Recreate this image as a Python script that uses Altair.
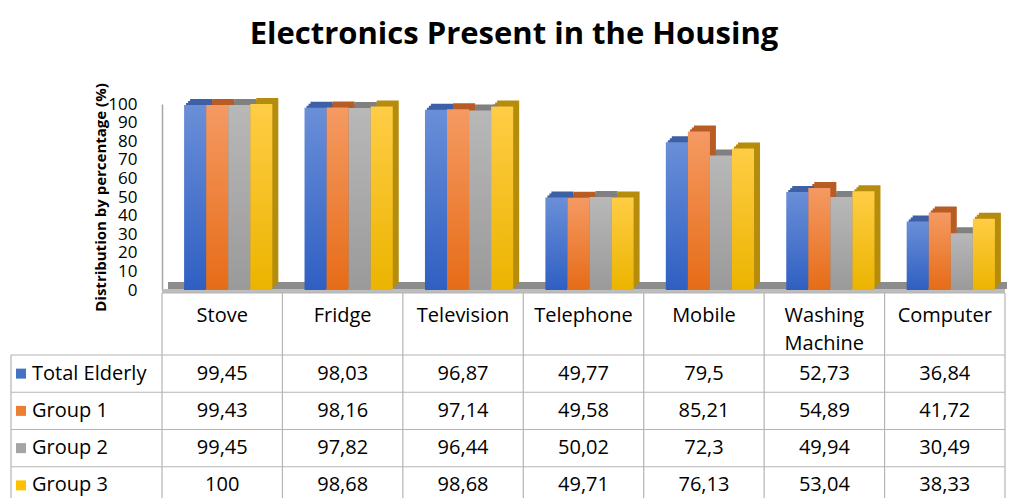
import altair as alt
import pandas as pd

categories = ["Stove", "Fridge", "Television", "Telephone", "Mobile", "Washing Machine", "Computer"]
header_labels = ["Stove", "Fridge", "Television", "Telephone", "Mobile", "Washing\nMachine", "Computer"]
series = ["Total Elderly", "Group 1", "Group 2", "Group 3"]
total_elderly = [99.45, 98.03, 96.87, 49.77, 79.5, 52.73, 36.84]
group_1 = [99.43, 98.16, 97.14, 49.58, 85.21, 54.89, 41.72]
group_2 = [99.45, 97.82, 96.44, 50.02, 72.3, 49.94, 30.49]
group_3 = [100, 98.68, 98.68, 49.71, 76.13, 53.04, 38.33]
y_ticks = [0, 10, 20, 30, 40, 50, 60, 70, 80, 90, 100]
title_text = "Electronics Present in the Housing"
y_title = "Distribution by percentage (%)"

solid = ["#4472c4", "#ed7d31", "#a5a5a5", "#ffc000"]
grad_top = ["#6a8fd8", "#f59a63", "#b8b8b8", "#ffcd45"]
grad_bottom = ["#2f5fc2", "#e66c17", "#9a9a9a", "#ecb400"]
depth = ["#3d5fa6", "#b85c26", "#808080", "#b58c0c"]

FONT = "Open Sans"
values_by_series = [total_elderly, group_1, group_2, group_3]

rows = []
for s, vals in zip(series, values_by_series):
    for c, lab, v in zip(categories, header_labels, vals):
        rows.append({"category": c, "label": lab, "series": s, "value": v,
                     "text": f"{v:g}".replace(".", ",")})
df = pd.DataFrame(rows)
cat_df = pd.DataFrame({"category": categories, "label": header_labels})
ser_df = pd.DataFrame({"series": series})

W, H = 843, 186
BAR_SHIFT = 6


def band_x(shift):
    return alt.Scale(type="band", domain=categories, range=[shift, W + shift],
                     paddingInner=0, paddingOuter=0)


xscale = band_x(0)
yscale = alt.Scale(domain=[0, 100], nice=False, zero=True)
offscale = alt.Scale(type="band", domain=series, paddingInner=0, paddingOuter=0.73)
rowscale = alt.Scale(type="band", domain=series, range=[251, 400], paddingInner=0, paddingOuter=0)
colscale = alt.Scale(domain=series, range=solid)
depthscale = alt.Scale(domain=series, range=depth)

yaxis = alt.Axis(values=y_ticks, title=y_title, grid=False, ticks=False,
                 labelFontSize=17, labelFont=FONT, labelColor="#000000",
                 labelPadding=25, labelOverlap=False, labelBound=False,
                 domainColor="#a6a6a6", domainWidth=1.5,
                 titleFont=FONT, titleFontSize=15, titleFontWeight="bold",
                 titleColor="#000000", titleX=-62, titleY=93, titleAngle=270,
                 titleAlign="center", titleBaseline="middle")

GRID = "#b4b4b4"

# ---- floor (decoration) ----
floor_top = alt.Chart(ser_df.head(1)).mark_rect(color="#8c8c8c").encode(
    x=alt.value(6), x2=alt.value(W + 6), y=alt.value(178), y2=alt.value(185))
floor_front = alt.Chart(ser_df.head(1)).mark_rect(color="#bdbdbd").encode(
    x=alt.value(0), x2=alt.value(W), y=alt.value(185), y2=alt.value(189))

# ---- bar depth (stacked offsets give a slanted top/side face) ----
shadows = []
for d in [2, 4, 6]:
    shadows.append(
        alt.Chart(df).mark_bar(yOffset=-d, y2Offset=-d).encode(
            x=alt.X("category:N", scale=band_x(BAR_SHIFT + d), axis=None),
            xOffset=alt.XOffset("series:N", scale=offscale),
            y=alt.Y("value:Q", scale=yscale, axis=yaxis),
            color=alt.Color("series:N", scale=depthscale, legend=None),
        )
    )

bars = []
for i, s in enumerate(series):
    g = alt.Gradient(gradient="linear", x1=0, x2=0, y1=0, y2=1,
                     stops=[alt.GradientStop(color=grad_top[i], offset=0),
                            alt.GradientStop(color=grad_bottom[i], offset=1)])
    bars.append(
        alt.Chart(df).transform_filter(alt.datum.series == s).mark_bar(color=g).encode(
            x=alt.X("category:N", scale=band_x(BAR_SHIFT), axis=None),
            xOffset=alt.XOffset("series:N", scale=offscale),
            y=alt.Y("value:Q", scale=yscale, axis=yaxis),
        )
    )

bar_part = alt.layer(floor_top, floor_front, *shadows, *bars).resolve_scale(x="independent")

# ---- table ----
header_line = alt.Chart(ser_df.head(1)).mark_rule(color=GRID, strokeWidth=1.2).encode(
    x=alt.value(0), x2=alt.value(W), y=alt.value(189))
row_lines = alt.Chart(ser_df).mark_rule(color=GRID, strokeWidth=1.2).encode(
    y=alt.Y("series:N", scale=rowscale, axis=None, bandPosition=0),
    x=alt.value(-151), x2=alt.value(W))
col_lines = alt.Chart(cat_df).mark_rule(color=GRID, strokeWidth=1.2).encode(
    x=alt.X("category:N", scale=xscale, axis=None, bandPosition=0),
    y=alt.value(189), y2=alt.value(400))
right_line = alt.Chart(cat_df.tail(1)).mark_rule(color=GRID, strokeWidth=1.2).encode(
    x=alt.X("category:N", scale=xscale, axis=None, bandPosition=1),
    y=alt.value(189), y2=alt.value(400))
left_line = alt.Chart(ser_df.head(1)).mark_rule(color=GRID, strokeWidth=1.2).encode(
    x=alt.value(-151), y=alt.value(251), y2=alt.value(400))

header_text = alt.Chart(cat_df).mark_text(
    font=FONT, fontSize=20, color="#000000", baseline="middle", lineBreak="\n", lineHeight=28
).encode(
    x=alt.X("category:N", scale=xscale, axis=None, bandPosition=0.5),
    y=alt.value(212),
    text="label:N",
)

cell_text = alt.Chart(df).mark_text(
    font=FONT, fontSize=20, color="#000000", baseline="middle"
).encode(
    x=alt.X("category:N", scale=xscale, axis=None, bandPosition=0.5),
    y=alt.Y("series:N", scale=rowscale, axis=None, bandPosition=0.5),
    text="text:N",
)

legend_sq = alt.Chart(ser_df).mark_square(size=100, opacity=1, filled=True).encode(
    x=alt.value(-141),
    y=alt.Y("series:N", scale=rowscale, axis=None, bandPosition=0.5),
    color=alt.Color("series:N", scale=colscale, legend=None),
)
legend_txt = alt.Chart(ser_df).mark_text(
    font=FONT, fontSize=20, color="#000000", align="left", baseline="middle"
).encode(
    x=alt.value(-130),
    y=alt.Y("series:N", scale=rowscale, axis=None, bandPosition=0.5),
    text="series:N",
)

title = alt.Chart(ser_df.head(1)).mark_text(
    font=FONT, fontSize=31, fontWeight="bold", color="#000000",
    align="center", baseline="alphabetic"
).encode(x=alt.value(352), y=alt.value(-60), text=alt.value(title_text))

table_part = alt.layer(header_line, row_lines, col_lines, right_line, left_line,
                       header_text, cell_text, legend_sq, legend_txt, title)

chart = alt.layer(bar_part, table_part).resolve_scale(
    x="independent", y="independent", color="independent"
).properties(
    width=W, height=H, autosize="none",
    padding={"left": 154, "top": 96, "right": 2, "bottom": 208},
    background="#ffffff",
).configure_view(stroke=None)

chart.save("out.html", embed_options={"renderer": "svg", "actions": False})
